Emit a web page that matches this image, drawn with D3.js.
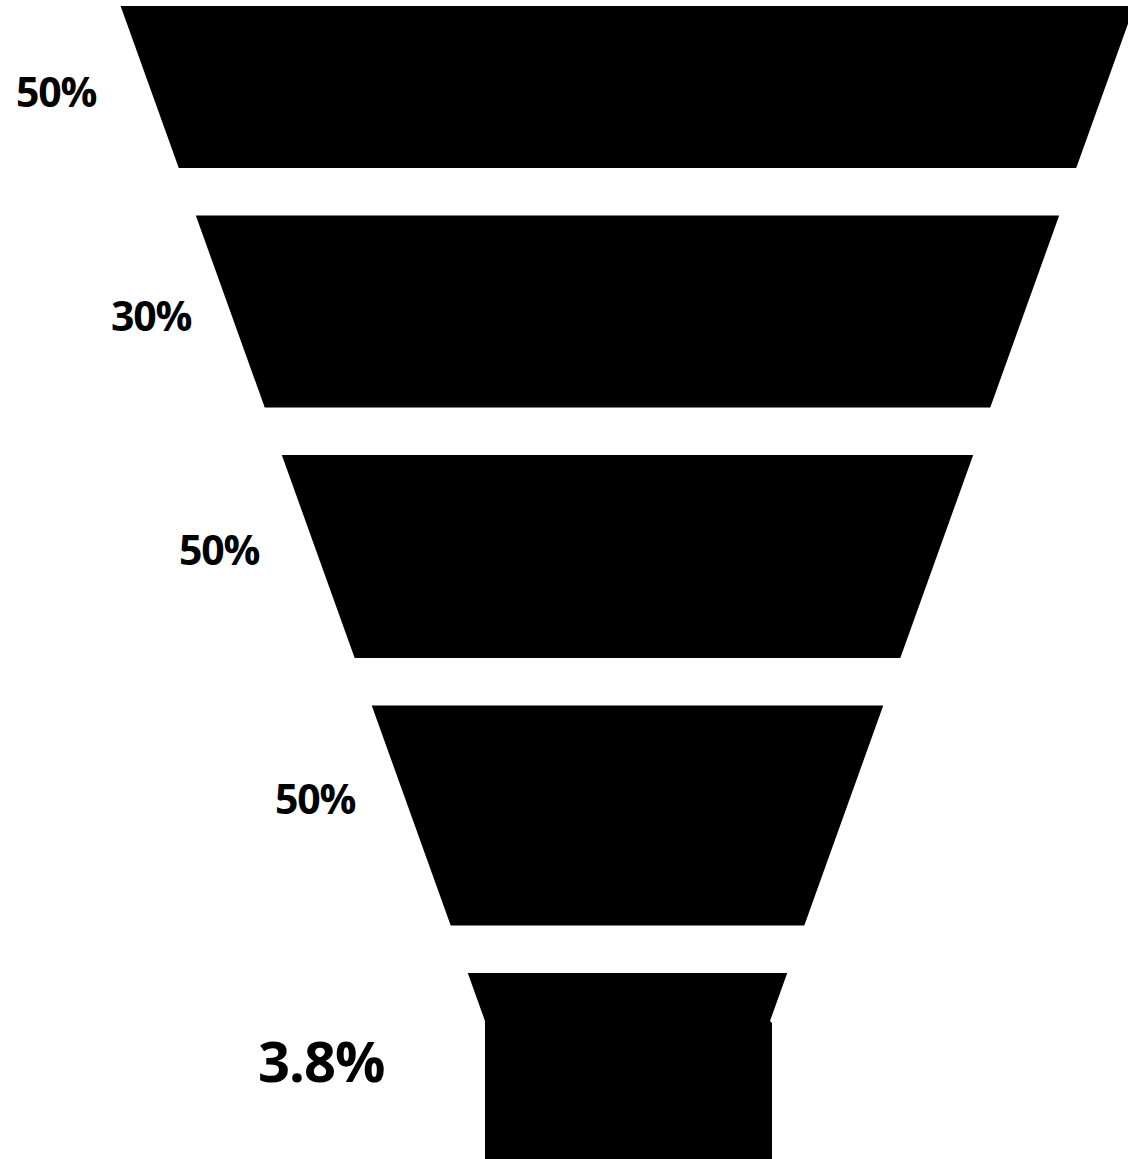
<!DOCTYPE html>
<html>
<head>
<meta charset="utf-8">
<script src="https://cdn.jsdelivr.net/npm/d3@7"></script>
<style>
  html, body { margin: 0; padding: 0; background: #fff; overflow: hidden; }
  svg { display: block; }
</style>
</head>
<body>
<div id="chart"></div>
<script>
// Step-to-step conversion rates of the funnel
const stages = ["Stage 1", "Stage 2", "Stage 3", "Stage 4"];
const stepRates = [0.50, 0.30, 0.50, 0.50];
const stepLabels = ["50%", "30%", "50%", "50%"];
// Overall conversion = product of the step rates
const overallRate = stepRates.reduce((a, b) => a * b, 1);
const overallLabel = "3.8%";

// ---- layout ----
const W = 1128, H = 1159;
const centerX = 627.5;
const segHeights = [162, 192, 203, 220];   // vertical size of each band
const gap = 47.5;                           // white space between bands
const topY = 6;
const taperH = 48;                          // sloped part of the last band
const neckBottom = H + 10;
// label anchors (start x, baseline y)
const labelPos = [[16, 107], [111, 331], [179, 565], [275, 814]];
const overallPos = [258, 1082];

// the funnel narrows linearly with depth: half-width as a function of y
const halfWidth = d3.scaleLinear().domain([216, 1021]).range([431.5, 142.5]);

const svg = d3.select("#chart").append("svg")
  .attr("width", W).attr("height", H);

// band extents
const bands = [];
let y = topY;
stages.forEach((s, i) => {
  bands.push({ stage: s, rate: stepRates[i], label: stepLabels[i], y0: y, y1: y + segHeights[i] });
  y += segHeights[i] + gap;
});
const lastTop = y;
const neckY = lastTop + taperH;
const neckHalf = halfWidth(neckY);

const line = d3.line();
function trapezoid(y0, y1) {
  const a = halfWidth(y0), b = halfWidth(y1);
  return line([[centerX - a, y0], [centerX + a, y0], [centerX + b, y1], [centerX - b, y1]]) + "Z";
}

svg.selectAll("path.band").data(bands).join("path")
  .attr("class", "band")
  .attr("d", d => trapezoid(d.y0, d.y1))
  .attr("fill", "#000");

// final stage: short taper into a straight neck
const a = halfWidth(lastTop);
svg.append("path")
  .attr("d", line([
    [centerX - a, lastTop], [centerX + a, lastTop],
    [centerX + neckHalf, neckY], [centerX + neckHalf + 2, neckY + 2], [centerX + neckHalf + 2, neckBottom],
    [centerX - neckHalf, neckBottom], [centerX - neckHalf, neckY]
  ]) + "Z")
  .attr("fill", "#000");

// rate labels
svg.selectAll("text.rate").data(bands).join("text")
  .attr("class", "rate")
  .attr("x", (d, i) => labelPos[i][0])
  .attr("y", (d, i) => labelPos[i][1])
  .attr("font-family", "'Open Sans', 'DejaVu Sans', sans-serif")
  .attr("font-weight", 700)
  .attr("font-size", 41)
  .attr("letter-spacing", -1.2)
  .attr("fill", "#000")
  .text(d => d.label);

svg.append("text")
  .attr("x", overallPos[0]).attr("y", overallPos[1])
  .attr("font-family", "'Open Sans', 'DejaVu Sans', sans-serif")
  .attr("font-weight", 700)
  .attr("font-size", 56)
  .attr("letter-spacing", -1)
  .attr("fill", "#000")
  .text(overallLabel);
</script>
</body>
</html>
